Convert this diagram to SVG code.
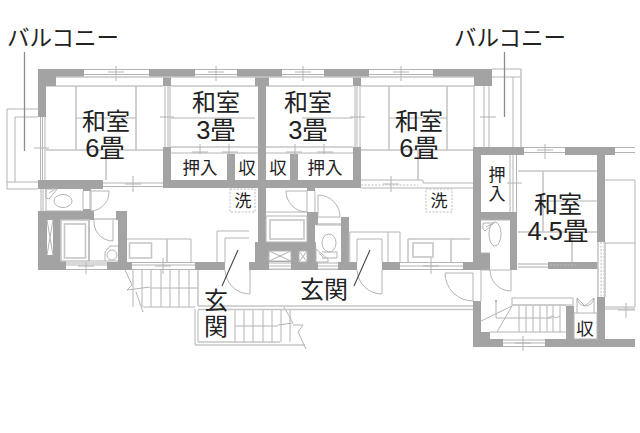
<svg xmlns="http://www.w3.org/2000/svg" width="640" height="433" viewBox="0 0 640 433">
<style>
.w{fill:#a3a3a3;stroke:none}
.l{fill:none;stroke:#b4b4b4;stroke-width:1}
.m{fill:none;stroke:#c6c6c6;stroke-width:1.6}
.d{fill:none;stroke:#bdbdbd;stroke-width:1;stroke-dasharray:2 1.5}
.f{fill:#fff;stroke:#b4b4b4;stroke-width:1}
.t{font-family:"Liberation Sans","Noto Sans CJK JP",sans-serif;fill:#222;text-anchor:middle}
.a{font-size:24px}.n{font-size:25.500px}.e{font-size:17.500px}.s{font-size:17px}
.c{font-size:22.500px}
.x{stroke:#444;stroke-width:1.100;fill:none}
.g{stroke:#8c8c8c;stroke-width:1.300;fill:none}
</style>
<rect width="640" height="433" fill="#fff"/>
<g id="tatami">
<path class="m" d="M46 86H163M76 86V150M136 86V150M46 150H163M106 150V180"/>
<path class="l" d="M76 118H136"/>
<path class="m" d="M171 86H258M171 147H258M266 86H353M266 147H353"/>
<path class="l" d="M171 118H255M302 118H353M171 153H258M266 153H353"/>
<path class="m" d="M361 86H474M389 86V150M447 86V150M361 150H473M418 150V180"/>
<path class="l" d="M389 118H447"/>
<path class="m" d="M518 171H597M543 171V232M518 232H597M572 232V262"/>
<path class="l" d="M543 201H597"/>
</g>
<g id="walls">
<rect class="w" x="38" y="69" width="46" height="8"/><rect class="w" x="38" y="69" width="18" height="17"/><rect class="w" x="38" y="69" width="8" height="48"/>
<rect class="w" x="149" y="69" width="46" height="8"/><rect class="w" x="237" y="69" width="45" height="8"/><rect class="w" x="324" y="69" width="45" height="8"/><rect class="w" x="433" y="69" width="59" height="8"/><rect class="w" x="474" y="77" width="18" height="9"/>
<rect class="w" x="163" y="77" width="8" height="9"/><rect class="w" x="255" y="77" width="14" height="9"/><rect class="w" x="258" y="77" width="8" height="111"/><rect class="w" x="353" y="77" width="8" height="9"/>
<rect class="w" x="163" y="147" width="8" height="41"/><rect class="w" x="353" y="147" width="8" height="41"/>
<rect class="w" x="38" y="180" width="65" height="9"/><rect class="w" x="163" y="180" width="198" height="8"/>
<rect class="w" x="227" y="154" width="8" height="26"/><rect class="w" x="290" y="154" width="8" height="26"/>
<rect class="w" x="38" y="211" width="23" height="59"/><rect class="w" x="38" y="211" width="56" height="9"/><rect class="w" x="116" y="211" width="11" height="9"/><rect class="w" x="118" y="211" width="9" height="52"/><rect class="w" x="38" y="261" width="28" height="9"/><rect class="w" x="107" y="262" width="25" height="8"/><rect class="w" x="83" y="189" width="8" height="2"/><rect class="w" x="83" y="209" width="8" height="2"/>
<rect class="w" x="195" y="262" width="30" height="8"/>
<rect class="w" x="258" y="188" width="8" height="74"/><rect class="w" x="255" y="242" width="94" height="20"/><rect class="w" x="249" y="262" width="108" height="8"/><rect class="w" x="307" y="212" width="8" height="50"/><rect class="w" x="315" y="212" width="3" height="13"/><rect class="w" x="341" y="217" width="8" height="45"/><rect class="w" x="307" y="188" width="8" height="3"/>
<rect class="w" x="382" y="262" width="18" height="8"/><rect class="w" x="463" y="262" width="10" height="8"/>
<rect class="w" x="473" y="147" width="51" height="8"/><rect class="w" x="565" y="147" width="50" height="8"/><rect class="w" x="473" y="147" width="8" height="123"/><rect class="w" x="481" y="212" width="36" height="8"/><rect class="w" x="510" y="212" width="7" height="58"/><rect class="w" x="481" y="253" width="9" height="17"/><rect class="w" x="548" y="262" width="50" height="7"/><rect class="w" x="597" y="155" width="8" height="87"/><rect class="w" x="597" y="297" width="8" height="50"/>
<rect class="w" x="473" y="301" width="8" height="46"/><rect class="w" x="473" y="339" width="30" height="8"/><rect class="w" x="545" y="339" width="90" height="8"/><rect class="w" x="481" y="332" width="9" height="7"/><rect class="w" x="566" y="306" width="8" height="33"/>
</g>
<g id="windows">
<path class="l" d="M84 69.500H149M84 74.500H149M195 69.500H237M195 74.500H237M282 69.500H324M282 74.500H324M369 69.500H433M369 74.500H433M524 147.500H565M524 152.500H565M615 147.500H635M615 152.500H635"/>
<path class="l" d="M116 66V81M108 72H124M216 66V81M208 72H224M303 66V81M295 72H311M401 66V81M393 72H409M545 144V159M537 150H553"/>
<path class="l" d="M103 183H163M103 186.500H163M133 176V192M125 184H141M361 180H423M423 183H473M423 180V183M361 188H473M391 176V192M383 184H399"/>
<path class="d" d="M361 185H418"/>
<path class="l" d="M66 263H107M66 265H107M66 269.500H107M86 258V274M78 266H94M132 262.500H195M132 265H195M132 269.500H195M163 258V274M155 266H171"/>
<path class="l" d="M400 262.500H463M400 266H463M400 269.500H463M431 258V274M423 266H439"/>
<path class="l" d="M503 340H545M503 343H545M503 346.500H545M523 336V351M515 343H531"/>
<path class="l" d="M605 307H635M605 309H635M626 303V318M618 310H635"/>
<path class="m" d="M518 264H548M518 267H548"/>
<path class="d" d="M601 242V297M604 242V297M550 265H578"/>
<path class="m" d="M598 242V297M605 242V297"/>
</g>
<rect x="269" y="262" width="22" height="7.500" fill="#fff"/><rect x="318" y="262" width="20" height="7.500" fill="#fff"/>
<path class="l" d="M269 263H291M269 266H291M269 269H291M318 263H338M318 266H338M318 269H338"/>
<g id="sliders">
<path class="l" d="M40.500 117V180M42.500 117V180M45 117V180M34 148H49"/>
<path class="l" d="M165 86V147M168 86V147M170 86V147M160 117H174M355 86V147M357 86V147M360 86V147M350 117H365"/>
<path class="l" d="M510 155V212M513 155V212M516.500 155V212M507 183H522"/>
<path class="l" d="M484 86V147M489 86V147M480 117H496M474 86V147"/>
<path class="l" d="M200 144V159M192 152H208M229 144V159M222 152H238M295 144V159M286 152H302M324 144V159M317 152H333"/>
<path class="m" d="M56 77H474"/>
</g>
<g id="balconies">
<path class="l" d="M38 109H7V189H38M15 117V182M7 182H38M15 117H38"/>
<path class="l" d="M492 69H521M492 77H521M513 77V147"/>
<path class="m" d="M521 69V147"/>
</g>
<g id="closets">
<rect x="171" y="154" width="56" height="26" fill="#fff"/><rect x="235" y="154" width="23" height="26" fill="#fff"/><rect x="266" y="154" width="24" height="26" fill="#fff"/><rect x="298" y="154" width="55" height="26" fill="#fff"/>
</g>
<g id="fixtures">
<path class="l" d="M41 189V211M43 189V211M46 189V211M46 211H83"/>
<path class="l" d="M83 191V209M90 191V209M91 191H109A19 19 0 0 1 91 211V191"/>
<path class="l" d="M46 189L57 189L49 199L46 198ZM49 193L54 190"/>
<ellipse class="l" cx="63" cy="201" rx="9" ry="6.500"/>
<rect x="47" y="220" width="6" height="35" fill="#fff"/><path class="l" d="M47 220L53 255M53 220L47 255"/>
<rect x="61" y="220" width="57" height="41" fill="#fff"/>
<path class="m" d="M61 220H89V261H61Z"/><rect class="m" x="64.500" y="224" width="21" height="34"/>
<path class="l" d="M89 220V261H118M94 220A19 19 0 0 0 113 241V220"/><path class="m" d="M94 219H116"/><circle class="l" cx="112" cy="255" r="5"/><path class="l" d="M105 261V252L110 246H118"/>
<path class="l" d="M127 239H191V262"/><rect class="m" x="129.500" y="243" width="22" height="15"/><path class="m" d="M167 239V262"/>
<path class="l" d="M266 212H307M286 191H307V212A21 21 0 0 1 286 191M315 191V212M266 216H307"/>
<rect class="m" x="270" y="220" width="34" height="19" fill="#fff"/><path class="l" d="M266 216V242H307V216"/>
<rect x="269" y="251" width="22" height="10" fill="#fff"/><path class="l" d="M269 251H291L269 261H291L269 251M291 251V261M269 251V261"/>
<rect x="299" y="251" width="8" height="11" fill="#fff"/><path class="l" d="M299 251H307V262H299ZM299 251L307 262M307 251L299 262"/>
<rect x="316" y="225" width="25" height="37" fill="#fff"/>
<path class="l" d="M318 195A22 22 0 0 1 340 217H318V195M316 225H341"/><path class="m" d="M318 224H341"/>
<ellipse class="l" cx="329" cy="243" rx="7" ry="9"/><path class="l" d="M322 252H337V258H322M316 249L328 259L328 262H316ZM319 253L325 259"/>
<path class="l" d="M350 232H400V262M357 262V239H382V262"/><path class="m" d="M349.500 262V232"/><path class="l" d="M388 232V262M357 270A25 25 0 0 0 382 294V270"/>
<path class="l" d="M225 270A25 25 0 0 0 250 294V270M217 262V231H249M225 262V238H249"/>
<path class="m" d="M408 239V262M451 239V262M408 239H470"/><rect class="m" x="413" y="243" width="20" height="14"/>
<path class="l" d="M445 273H473V301A28 28 0 0 1 445 273"/>
<path class="l" d="M490 270A21 21 0 0 0 511 291V270M481 270V301"/>
<path class="l" d="M481 270H510"/>
<ellipse class="l" cx="495" cy="234" rx="6" ry="12"/><path class="l" d="M483 223H494L485 231L483 229ZM486 227L491 224"/><path class="l" d="M481 220H510M481 253H490"/>
<path class="l" d="M605 180H635V307M605 243H635"/>
</g>
<g id="stairs">
<path class="l" d="M133 270V307M142 270V307M151 270V307M161 270V307M170 270V307M179 270V307M189 270V307"/>
<path class="l" d="M151 288H198"/>
<path class="m" d="M198 270V306"/>
<path class="l" d="M125 270L132 285L127 290L150 287M136 292L143 312M143 307H195"/>
<path class="l" d="M195 309V345M198 310V342"/>
<path class="m" d="M195 345H305M198 342H280"/>
<path class="l" d="M235 310V342M244 310V342M253 310V342M263 310V342M272 310V342M281 310V342M290 310V342M235 326H278"/>
<path class="l" d="M284 307L293 323L278 325M303 325L298 332L306 349M293 325L303 325"/>
<path class="m" d="M198 306H473M198 309.500H473"/>
<rect class="l" x="512" y="298" width="61" height="7"/>
<path class="m" d="M512 305H566"/>
<path class="l" d="M519 306V332M526 306V332M533 306V332M540 306V332M547 306V332M553 306V332M560 306V332M481 321L512 306L497 332M490 332H566M496 301V318H552M548 318L552 316L556 318L560 316"/>
<circle cx="496" cy="301" r="1.200" fill="#b4b4b4"/>
<rect class="f" x="574" y="313" width="23" height="26"/>
<path class="l" d="M577 313V298L585 306L594 298V313"/><path class="l" d="M577 298A9 9 0 0 0 585 306A9 9 0 0 0 594 298"/>
</g>
<g id="leaders">
<path class="g" d="M24.500 52V151M504.500 52V117"/>
<path class="x" d="M238 250L222 286M370 250L354 286"/>
</g>
<rect class="d" x="230" y="189" width="25" height="23"/>
<rect class="d" x="426" y="189" width="26" height="23"/>
<g id="labels">
<text class="t c" x="63" y="46">バルコニー</text>
<text class="t c" x="510" y="46">バルコニー</text>
<text class="t a" x="106" y="129.500">和室</text><text class="t n" x="105" y="157">6畳</text>
<text class="t a" x="216" y="111">和室</text><text class="t n" x="216" y="139">3畳</text>
<text class="t a" x="308" y="111">和室</text><text class="t n" x="308" y="139">3畳</text>
<text class="t a" x="419" y="129.500">和室</text><text class="t n" x="419" y="157">6畳</text>
<text class="t a" x="558" y="212.500">和室</text><text class="t n" x="558" y="240">4.5畳</text>
<text class="t e" x="200" y="174">押入</text><text class="t e" x="247" y="174">収</text><text class="t e" x="278" y="174">収</text><text class="t e" x="325" y="174">押入</text>
<text class="t s" x="497" y="181">押</text><text class="t s" x="497" y="200">入</text>
<text class="t e" x="585" y="335">収</text>
<text class="t s" x="243" y="207">洗</text><text class="t s" x="439" y="207">洗</text>
<text class="t a" x="216" y="309">玄</text><text class="t a" x="216" y="335">関</text>
<text class="t a" x="324" y="298">玄関</text>
</g>
</svg>
